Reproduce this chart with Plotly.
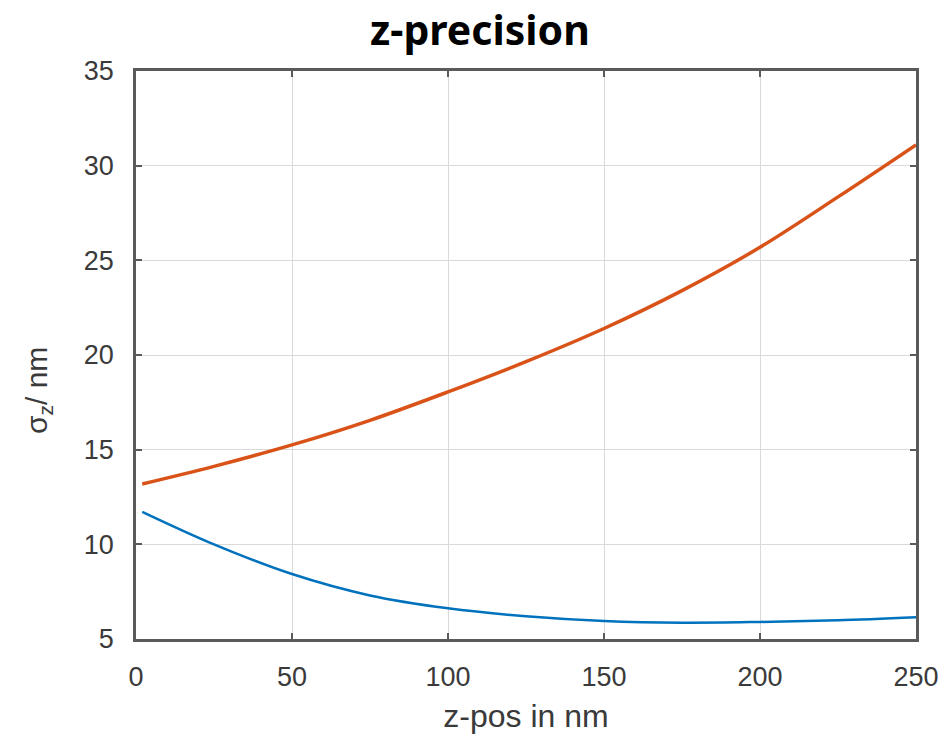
import plotly.graph_objects as go

z_pos = [2, 25, 50, 75, 100, 125, 150, 175, 200, 225, 250]
sigma_orange = [13.19, 14.12, 15.25, 16.55, 18.05, 19.65, 21.4, 23.4, 25.69, 28.35, 31.1]
sigma_blue = [11.72, 10.0, 8.43, 7.3, 6.62, 6.2, 5.95, 5.86, 5.9, 5.99, 6.15]

x_ticks = [0, 50, 100, 150, 200, 250]
y_ticks = [5, 10, 15, 20, 25, 30, 35]

fig = go.Figure()
fig.add_trace(go.Scatter(x=z_pos, y=sigma_orange, mode="lines",
                         line=dict(color="#D95319", width=3.5, shape="spline"),
                         showlegend=False))
fig.add_trace(go.Scatter(x=z_pos, y=sigma_blue, mode="lines",
                         line=dict(color="#0072BD", width=2.5, shape="spline"),
                         showlegend=False))

axis_common = dict(
    showline=True, linecolor="#5a5a5a", linewidth=2.5, mirror="ticks",
    ticks="inside", ticklen=6, tickwidth=2, tickcolor="#5a5a5a",
    showgrid=True, gridcolor="#dadada", gridwidth=1, zeroline=False,
    automargin=False,
    tickfont=dict(family="Liberation Sans, Arial", size=27, color="#3a3a3a"),
)

fig.update_layout(
    width=945, height=739,
    margin=dict(l=136, r=29, t=71, b=100),
    paper_bgcolor="white", plot_bgcolor="white",
    title=dict(text="<b>z-precision</b>", x=480/945, xref="container", xanchor="center",
               y=1-31/739, yref="container", yanchor="middle", automargin=False,
               font=dict(family="Noto Sans, Open Sans", size=41, color="black")),
    xaxis=dict(range=[0, 250], tickvals=x_ticks, ticklabelstandoff=12,
               title=dict(text="z-pos in nm", standoff=14,
                          font=dict(family="Liberation Sans, Arial", size=32, color="#3a3a3a")),
               **axis_common),
    yaxis=dict(range=[5, 35], tickvals=y_ticks, ticklabelstandoff=14,
               **axis_common),
    annotations=[dict(text="σ<sub>z</sub>/ nm", textangle=-90,
                      xref="paper", yref="paper",
                      x=(38 - 136) / 780, y=(639 - 391) / 568,
                      xanchor="center", yanchor="middle", showarrow=False,
                      font=dict(family="Liberation Sans, Arial", size=30, color="#3a3a3a"))],
)

fig.write_html("out.html")
